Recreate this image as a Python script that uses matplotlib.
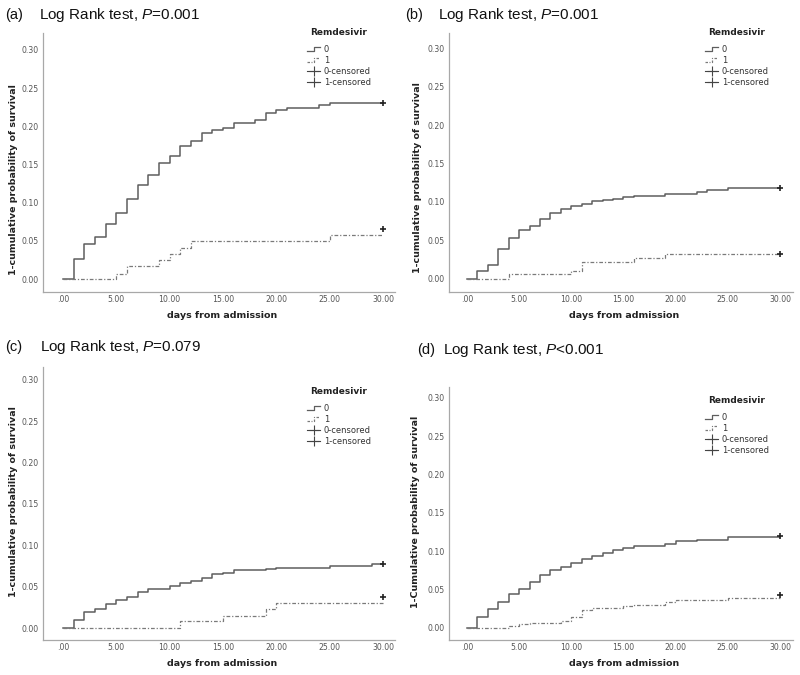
import matplotlib
matplotlib.use("Agg")
import matplotlib.pyplot as plt
from matplotlib.lines import Line2D
from matplotlib.legend_handler import HandlerBase

plt.rcParams['mathtext.fontset'] = 'custom'
plt.rcParams['mathtext.it'] = 'Liberation Sans:italic'
plt.rcParams['mathtext.rm'] = 'Liberation Sans'

# ---------------- data ----------------
x_ticks = [0, 5, 10, 15, 20, 25, 30]
x_tick_labels = [".00", "5.00", "10.00", "15.00", "20.00", "25.00", "30.00"]
y_ticks = [0.00, 0.05, 0.10, 0.15, 0.20, 0.25, 0.30]
y_tick_labels = ["0.00", "0.05", "0.10", "0.15", "0.20", "0.25", "0.30"]

panel_tags = ["(a)", "(b)", "(c)", "(d)"]
p_values = ["=0.001", "=0.001", "=0.079", "<0.001"]
y_labels = ["1-cumulative probability of survival",
            "1-cumulative probability of survival",
            "1-cumulative probability of survival",
            "1-Cumulative probability of survival"]
x_label = "days from admission"
legend_title = "Remdesivir"
legend_labels = ["0", "1", "0-censored", "1-censored"]
censor_time = 30

# panel (a)
a_t0 = [0, 1, 2, 3, 4, 5, 6, 7, 8, 9, 10, 11, 12, 13, 14, 15, 16, 18, 19, 20, 21, 24, 25]
a_s0 = [0, 0.026, 0.046, 0.055, 0.072, 0.086, 0.105, 0.123, 0.136, 0.152, 0.161, 0.174,
        0.181, 0.191, 0.195, 0.198, 0.204, 0.208, 0.217, 0.221, 0.224, 0.228, 0.230]
a_t1 = [0, 5, 6, 9, 10, 11, 12, 25]
a_s1 = [0, 0.007, 0.017, 0.025, 0.033, 0.041, 0.050, 0.058]
a_c0, a_c1 = 0.230, 0.066

# panel (b)
b_t0 = [0, 1, 2, 3, 4, 5, 6, 7, 8, 9, 10, 11, 12, 13, 14, 15, 16, 19, 20, 22, 23, 25]
b_s0 = [0, 0.011, 0.018, 0.039, 0.053, 0.063, 0.069, 0.078, 0.086, 0.091, 0.095, 0.098,
        0.101, 0.103, 0.104, 0.106, 0.108, 0.110, 0.111, 0.113, 0.116, 0.118]
b_t1 = [0, 4, 10, 11, 16, 19]
b_s1 = [0, 0.006, 0.011, 0.022, 0.027, 0.033]
b_c0, b_c1 = 0.118, 0.033

# panel (c)
c_t0 = [0, 1, 2, 3, 4, 5, 6, 7, 8, 10, 11, 12, 13, 14, 15, 16, 19, 20, 22, 25, 29]
c_s0 = [0, 0.010, 0.019, 0.023, 0.029, 0.034, 0.038, 0.044, 0.047, 0.051, 0.054, 0.057,
        0.061, 0.065, 0.067, 0.070, 0.071, 0.072, 0.073, 0.075, 0.077]
c_t1 = [0, 11, 15, 19, 20]
c_s1 = [0, 0.008, 0.015, 0.023, 0.030]
c_c0, c_c1 = 0.078, 0.037

# panel (d)
d_t0 = [0, 1, 2, 3, 4, 5, 6, 7, 8, 9, 10, 11, 12, 13, 14, 15, 16, 19, 20, 22, 25]
d_s0 = [0, 0.014, 0.025, 0.034, 0.044, 0.051, 0.060, 0.069, 0.075, 0.080, 0.085, 0.090,
        0.094, 0.098, 0.102, 0.104, 0.107, 0.109, 0.113, 0.115, 0.118]
d_t1 = [0, 4, 5, 6, 9, 10, 11, 12, 15, 16, 19, 20, 25]
d_s1 = [0, 0.002, 0.005, 0.007, 0.009, 0.014, 0.023, 0.026, 0.028, 0.030, 0.034, 0.037, 0.039]
d_c0, d_c1 = 0.120, 0.043

panels = [
    (a_t0, a_s0, a_t1, a_s1, a_c0, a_c1),
    (b_t0, b_s0, b_t1, b_s1, b_c0, b_c1),
    (c_t0, c_s0, c_t1, c_s1, c_c0, c_c1),
    (d_t0, d_s0, d_t1, d_s1, d_c0, d_c1),
]

# ---------------- layout (pixels) ----------------
W, H = 800, 675
fig = plt.figure(figsize=(W / 100, H / 100), dpi=100)

# left, right, top, bottom, xlim, ylim
boxes = [
    (43, 395, 33, 292, (-1.875, 31.125), (-0.0170, 0.322)),
    (449, 793, 33, 292, (-1.725, 31.25), (-0.0169, 0.3195)),
    (43, 395, 367, 640, (-1.875, 31.125), (-0.0145, 0.3157)),
    (449, 793, 387, 640, (-1.725, 31.25), (-0.0157, 0.3143)),
]
tag_pos = [(5, 15), (405, 15), (5, 347), (417, 350)]
title_pos = [(39, 15), (438, 15), (40, 347), (443, 350)]
legend_pos = [(307, 28), (705, 28), (307, 387), (705, 396)]
ylabel_pos = [(14, 180), (417, 178), (14, 502), (416, 512)]

line_col0 = "#5e5e5e"
line_col1 = "#7a7a7a"
spine_col = "#a8a8a8"


class StepHandler(HandlerBase):
    def __init__(self, dashed=False, **kw):
        super().__init__(**kw)
        self.dashed = dashed

    def create_artists(self, legend, orig_handle, xdescent, ydescent,
                       width, height, fontsize, trans):
        xs = [0, width * 0.55, width * 0.55, width]
        ys = [height * 0.2, height * 0.2, height * 0.85, height * 0.85]
        ln = Line2D(xs, ys, color=orig_handle.get_color(),
                    linewidth=orig_handle.get_linewidth(), transform=trans)
        if self.dashed:
            ln.set_dashes([2, 1.2, 0.8, 1.2])
        return [ln]


for i, (t0, s0, t1, s1, c0, c1) in enumerate(panels):
    L, R, T, B, xl, yl = boxes[i]
    ax = fig.add_axes([L / W, (H - B) / H, (R - L) / W, (B - T) / H])
    ax.set_xlim(*xl)
    ax.set_ylim(*yl)
    for s in ["top", "right"]:
        ax.spines[s].set_visible(False)
    for s in ["left", "bottom"]:
        ax.spines[s].set_color(spine_col)
        ax.spines[s].set_linewidth(0.9)

    ax.step(list(t0) + [censor_time], list(s0) + [s0[-1]], where="post",
            color=line_col0, linewidth=1.1)
    ax.step(list(t1) + [censor_time], list(s1) + [s1[-1]], where="post",
            color=line_col1, linewidth=0.9, dashes=[3, 1.5, 1, 1.5])
    ax.plot([censor_time], [c0], marker="+", color="#222222", markersize=5, mew=1.2)
    ax.plot([censor_time], [c1], marker="+", color="#222222", markersize=5, mew=1.2)

    ax.set_xticks(x_ticks)
    ax.set_xticklabels(x_tick_labels)
    ax.set_yticks(y_ticks)
    ax.set_yticklabels(y_tick_labels)
    ax.tick_params(length=0, labelsize=5.6, labelcolor="#555555")
    ax.tick_params(axis="x", pad=2.5)
    ax.tick_params(axis="y", pad=3)

    # axis labels
    fig.text((L + R) / 2 / W + 0.004, (H - (B + 23)) / H, x_label,
             ha="center", va="center", fontsize=6.8, fontweight="bold", color="#222222")
    fig.text(ylabel_pos[i][0] / W, (H - ylabel_pos[i][1]) / H, y_labels[i], rotation=90,
             ha="center", va="center", fontsize=6.8, fontweight="bold", color="#222222")

    # titles
    fig.text(tag_pos[i][0] / W, (H - tag_pos[i][1]) / H, panel_tags[i],
             ha="left", va="center", fontsize=10.5, family="Liberation Sans", color="#111111")
    fig.text(title_pos[i][0] / W, (H - title_pos[i][1]) / H,
             "Log Rank test, $P$" + p_values[i],
             ha="left", va="center", fontsize=11, family="Liberation Sans", color="#111111")

    # legend
    h0 = Line2D([], [], color=line_col0, linewidth=0.9)
    h1 = Line2D([], [], color=line_col1, linewidth=0.9)
    h2 = Line2D([], [], color="#444444", linewidth=0.8, marker="+", markersize=7, mew=0.8)
    h3 = Line2D([], [], color="#444444", linewidth=0.8, marker="+", markersize=7, mew=0.8)
    leg = ax.legend([h0, h1, h2, h3], legend_labels, title=legend_title,
                    loc="upper left",
                    bbox_to_anchor=(legend_pos[i][0] / W, (H - legend_pos[i][1]) / H),
                    bbox_transform=fig.transFigure,
                    frameon=False, fontsize=6, title_fontsize=6.5,
                    borderpad=0, labelspacing=0.22, handlelength=1.6,
                    handletextpad=0.4, borderaxespad=0,
                    handler_map={h0: StepHandler(dashed=False), h1: StepHandler(dashed=True)})
    leg.get_title().set_fontweight("bold")
    leg.get_title().set_color("#222222")
    for txt in leg.get_texts():
        txt.set_color("#333333")
    leg._legend_box.sep = 6

fig.savefig("out.png", dpi=100)
